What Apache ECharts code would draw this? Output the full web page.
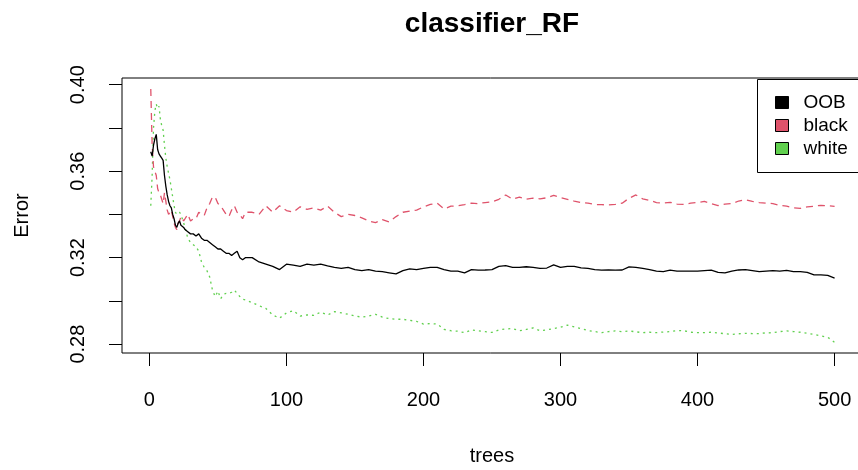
<!DOCTYPE html>
<html>
<head>
<meta charset="utf-8">
<script src="https://cdn.jsdelivr.net/npm/echarts@6/dist/echarts.min.js"></script>
<style>
html,body{margin:0;padding:0;background:#fff;}
#chart{width:858px;height:470px;}
</style>
</head>
<body>
<div id="chart"></div>
<script>
const titleText = 'classifier_RF';
const seriesNames = ['OOB', 'black', 'white'];
const xTicks = [0, 100, 200, 300, 400, 500];
const yTicks = [0.28, 0.30, 0.32, 0.34, 0.36, 0.38, 0.40];
const yLabels = [0.28, 0.32, 0.36, 0.40];

const trees = [1,2,3,4,5,6,7,8,9,10,11,12,13,14,15,16,17,18,19,20,21,22,23,24,25,26,28,30,32,34,36,38,40,42,44,46,48,50,52,54,56,58,60,62,64,66,68,70,
75,80,85,90,95,100,105,110,115,120,125,130,135,140,145,150,155,160,165,170,175,180,185,190,195,200,
205,210,215,220,225,230,235,240,245,250,255,260,265,270,275,280,285,290,295,300,
305,310,315,320,325,330,335,340,345,350,355,360,365,370,375,380,385,390,395,400,
405,410,415,420,425,430,435,440,445,450,455,460,465,470,475,480,485,490,495,500];

const oob = [0.369,0.367,0.372,0.375,0.377,0.370,0.368,0.367,0.366,0.365,0.358,0.353,0.349,0.346,0.344,0.343,0.340,0.338,0.335,0.334,0.336,0.337,0.335,0.335,0.334,0.333,0.332,0.331,0.331,0.330,0.331,0.329,0.328,0.328,0.327,0.326,0.325,0.324,0.324,0.323,0.322,0.322,0.321,0.322,0.323,0.320,0.319,0.320,
0.320,0.318,0.317,0.316,0.3145,0.317,0.3165,0.316,0.317,0.3165,0.317,0.3162,0.3155,0.315,0.3155,0.3145,0.314,0.3145,0.3138,0.3135,0.313,0.3125,0.314,0.3148,0.3145,0.315,
0.3155,0.3155,0.3145,0.3138,0.3138,0.313,0.3145,0.3142,0.3143,0.3145,0.316,0.3163,0.3155,0.3155,0.3158,0.3155,0.315,0.3152,0.3167,0.3155,
0.316,0.316,0.3153,0.315,0.3145,0.3142,0.3143,0.3142,0.3143,0.3157,0.3155,0.315,0.3145,0.3138,0.3135,0.3142,0.3138,0.3138,0.3138,0.3138,
0.314,0.3142,0.3132,0.313,0.3138,0.3143,0.3145,0.314,0.3135,0.3138,0.314,0.3138,0.3141,0.3135,0.3135,0.3132,0.312,0.312,0.3118,0.3105];

const blackErr = [0.398,0.372,0.362,0.360,0.358,0.352,0.350,0.349,0.347,0.345,0.350,0.346,0.342,0.340,0.341,0.342,0.339,0.336,0.334,0.333,0.336,0.337,0.339,0.338,0.337,0.338,0.340,0.337,0.338,0.338,0.341,0.340,0.3395,0.343,0.345,0.348,0.348,0.345,0.344,0.342,0.340,0.339,0.342,0.344,0.341,0.340,0.338,0.341,
0.341,0.340,0.344,0.341,0.344,0.3418,0.341,0.3435,0.3423,0.343,0.342,0.3438,0.341,0.339,0.340,0.3395,0.3384,0.337,0.3362,0.3376,0.3365,0.339,0.341,0.3415,0.342,0.3435,
0.3446,0.3452,0.3425,0.3438,0.344,0.3445,0.3452,0.345,0.3455,0.3458,0.347,0.349,0.347,0.348,0.347,0.3475,0.3472,0.3477,0.3488,0.3478,
0.347,0.3462,0.3455,0.3452,0.3446,0.3445,0.3444,0.3446,0.3452,0.3475,0.349,0.3472,0.3465,0.3455,0.3452,0.3456,0.3448,0.3446,0.3452,0.3455,
0.346,0.345,0.3441,0.3448,0.345,0.3462,0.3468,0.346,0.3455,0.3452,0.345,0.3442,0.3438,0.343,0.3428,0.3435,0.3438,0.3442,0.344,0.3437];

const whiteErr = [0.344,0.358,0.380,0.388,0.391,0.389,0.390,0.384,0.381,0.379,0.372,0.366,0.362,0.359,0.356,0.352,0.348,0.344,0.341,0.340,0.340,0.341,0.340,0.338,0.336,0.334,0.329,0.327,0.326,0.325,0.323,0.318,0.3155,0.314,0.311,0.305,0.302,0.3045,0.301,0.303,0.3035,0.3035,0.304,0.305,0.3035,0.302,0.3008,0.3005,
0.2992,0.2978,0.2965,0.2935,0.292,0.2945,0.2955,0.293,0.2935,0.2933,0.2948,0.2935,0.295,0.2945,0.2938,0.293,0.2925,0.293,0.2938,0.2925,0.2918,0.2915,0.2915,0.291,0.2905,0.2893,
0.2895,0.2893,0.2868,0.2862,0.286,0.2853,0.2866,0.2862,0.2858,0.2854,0.2866,0.287,0.2872,0.2862,0.2868,0.2875,0.2862,0.2866,0.2872,0.2878,
0.2888,0.288,0.2872,0.2863,0.2858,0.2853,0.2858,0.2861,0.2858,0.2861,0.2857,0.2853,0.2855,0.2853,0.2856,0.2858,0.2863,0.2862,0.2855,0.2853,
0.2853,0.2855,0.2852,0.2848,0.2845,0.2848,0.285,0.2849,0.2849,0.2852,0.2853,0.2858,0.2861,0.2858,0.2855,0.285,0.2845,0.2838,0.2832,0.2808];

const colors = ['#000000', '#DF536B', '#61D04F'];
const dashes = ['solid', [7, 5], [2, 4]];
const values = [oob, blackErr, whiteErr];

function pairs(v) { return trees.map((t, i) => [t, v[i]]); }

const chart = echarts.init(document.getElementById('chart'), null, {renderer: 'canvas'});
const font = 'Liberation Sans, Arial, sans-serif';
chart.setOption({
  animation: false,
  backgroundColor: '#ffffff',
  title: {
    text: titleText,
    left: 487, top: 5, textAlign: 'center',
    textStyle: {fontFamily: font, fontSize: 28, fontWeight: 'bold', color: '#000'}
  },
  grid: {
    left: 122, top: 78, width: 740, height: 275,
    outerBoundsMode: 'none', containLabel: false,
    show: true, borderColor: '#000', borderWidth: 1, backgroundColor: 'transparent'
  },
  graphic: [{
    type: 'rect', left: 757, top: 79, z: 100, silent: true,
    shape: {width: 115, height: 93},
    style: {fill: '#ffffff', stroke: '#000', lineWidth: 1}
  }],
  legend: {
    orient: 'vertical',
    left: 757, top: 79, z: 200,
    padding: [14, 20, 14, 18],
    itemWidth: 13, itemHeight: 12, itemGap: 4,
    textStyle: {fontFamily: font, fontSize: 19, color: '#000', padding: [0, 0, 0, 10]},
    itemStyle: {borderColor: '#000', borderWidth: 1},
    data: seriesNames.map(n => ({name: n, icon: 'rect'}))
  },
  xAxis: {
    type: 'value', min: -20, max: 520,
    name: 'trees', nameLocation: 'middle', nameGap: 93,
    nameTextStyle: {fontFamily: font, fontSize: 20, color: '#000'},
    axisLine: {show: false, onZero: false},
    axisTick: {show: true, inside: false, length: 13, customValues: xTicks, lineStyle: {color: '#000'}},
    axisLabel: {customValues: xTicks, margin: 37, fontFamily: font, fontSize: 20, color: '#000'},
    splitLine: {show: false}
  },
  yAxis: {
    type: 'value', min: 0.2759, max: 0.4031,
    name: 'Error', nameLocation: 'middle', nameGap: 90, nameRotate: 90,
    nameTextStyle: {fontFamily: font, fontSize: 20, color: '#000'},
    axisLine: {show: false, onZero: false},
    axisTick: {show: true, inside: false, length: 13, customValues: yTicks, lineStyle: {color: '#000'}},
    axisLabel: {customValues: yLabels, rotate: 90, margin: 34, fontFamily: font, fontSize: 20, color: '#000',
      formatter: v => Number(v).toFixed(2)},
    splitLine: {show: false}
  },
  series: seriesNames.map((n, i) => ({
    name: n, type: 'line', data: pairs(values[i]),
    showSymbol: false, symbol: 'none',
    color: colors[i],
    lineStyle: {color: colors[i], width: 1.3, type: dashes[i]},
    z: 3 - i
  }))
});
</script>
</body>
</html>
